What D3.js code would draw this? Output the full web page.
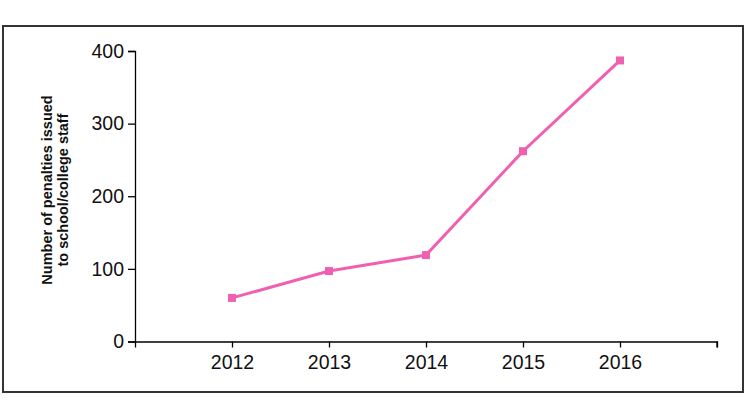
<!DOCTYPE html>
<html><head><meta charset="utf-8">
<script src="https://cdn.jsdelivr.net/npm/d3@7"></script>
<style>body{margin:0;background:#fff;}svg{display:block;}</style>
</head><body>
<svg id="c" width="750" height="403"></svg>
<script>
(function(){
const years = ["2012","2013","2014","2015","2016"];
const penalties = [60, 97, 119, 262, 387];
const yTicks = [0, 100, 200, 300, 400];
const yTitle = ["Number of penalties issued", "to school/college staff"];

const svg = d3.select("#c");
svg.append("rect").attr("x",3).attr("y",26).attr("width",740).attr("height",366)
  .attr("fill","#fff").attr("stroke","#333").attr("stroke-width",2);

const mLeft = 135, mRight = 717, mTop = 51, mBottom = 341.5;
const x = d3.scalePoint().domain(["", ...years, " "]).range([mLeft, mRight]);
const y = d3.scaleLinear().domain([0, 400]).range([mBottom, mTop]);

const gx = svg.append("g").attr("transform", `translate(0,${mBottom})`)
  .call(d3.axisBottom(x).tickValues(years).tickSizeOuter(0).tickSize(6).tickPadding(8));
gx.append("line").attr("x1", mRight).attr("x2", mRight).attr("y1", 0).attr("y2", 6).attr("stroke","#000").attr("stroke-width",1.3);
const gy = svg.append("g").attr("transform", `translate(${mLeft},0)`)
  .call(d3.axisLeft(y).tickValues(yTicks).tickSizeOuter(0).tickSize(7).tickPadding(4));
[gx, gy].forEach(g => {
  g.select(".domain").attr("stroke","#000").attr("stroke-width",1.3);
  g.selectAll(".tick line").attr("stroke","#000").attr("stroke-width",1.3);
  g.selectAll("text").attr("font-family","Arial, 'Liberation Sans', sans-serif")
    .attr("font-size",19.5).attr("fill","#111");
});

const t = svg.append("text").attr("transform","translate(52,190) rotate(-90)")
  .attr("text-anchor","middle").attr("font-family","Arial, 'Liberation Sans', sans-serif")
  .attr("font-size",14.5).attr("font-weight","bold").attr("fill","#111");
yTitle.forEach((s,i) => t.append("tspan").attr("x",0).attr("dy", i===0 ? 0 : 16).text(s));

const data = years.map((yr,i) => ({yr, v: penalties[i]}));
const col = "#f060b0";
svg.append("path").datum(data)
  .attr("d", d3.line().x(d => x(d.yr)).y(d => y(d.v)))
  .attr("fill","none").attr("stroke",col).attr("stroke-width",3);
svg.selectAll(".m").data(data).enter().append("rect")
  .attr("x", d => x(d.yr) - 4).attr("y", d => y(d.v) - 4)
  .attr("width",8).attr("height",8).attr("fill",col);
})();
</script>
</body></html>
